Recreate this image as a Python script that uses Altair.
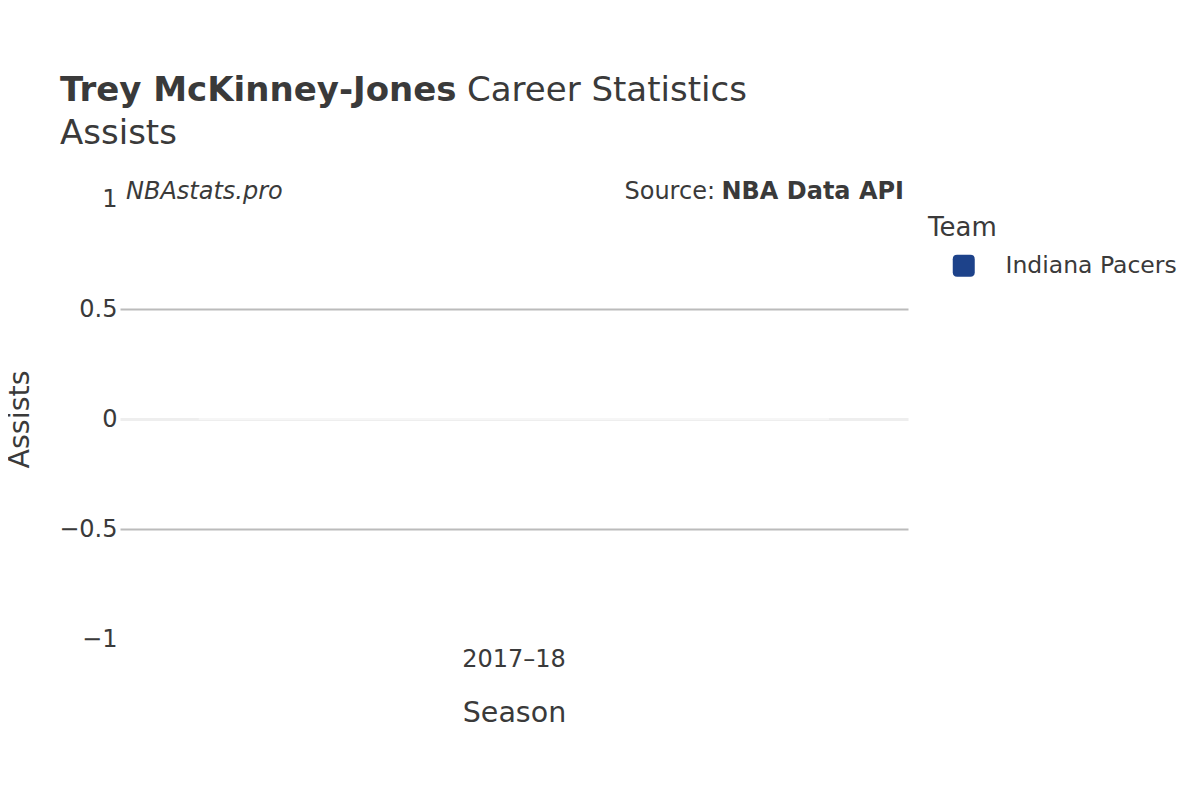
import altair as alt
import pandas as pd

seasons = ["2017–18"]
assists = [0]
teams = ["Indiana Pacers"]
team_colors = ["#1D428A"]

player = "Trey McKinney-Jones"
stat = "Assists"

FONT = "DejaVu Sans"
TXT = "#3a3a3a"

df = pd.DataFrame({"Season": seasons, "Assists": assists, "Team": teams})

rounded_sq = ("M -0.6 -1 L 0.6 -1 Q 1 -1 1 -0.6 L 1 0.6 Q 1 1 0.6 1 "
              "L -0.6 1 Q -1 1 -1 0.6 L -1 -0.6 Q -1 -1 -0.6 -1 Z")

base = alt.Chart(df)

bars = base.mark_bar(stroke="white", strokeWidth=1, strokeOpacity=0.6).encode(
    x=alt.X("Season:N", title="Season",
            scale=alt.Scale(paddingInner=0.2, paddingOuter=0.1),
            axis=alt.Axis(labelAngle=0, domain=False, ticks=False, labelFont=FONT,
                          labelFontSize=24, labelColor=TXT, labelPadding=8,
                          titleFont=FONT, titleFontSize=28.5, titleFontWeight="normal",
                          titleColor=TXT, titleX=394, titleY=73,
                          titleBaseline="middle", titleAlign="center")),
    y=alt.Y("Assists:Q", title="Assists",
            scale=alt.Scale(domain=[-1, 1], nice=False),
            axis=alt.Axis(values=[-1, -0.5, 0, 0.5, 1], format="~g", domain=False, ticks=False,
                          labelFont=FONT, labelFontSize=24, labelColor=TXT,
                          labelPadding=3,
                          gridColor={"condition": {"test": "datum.value === 0", "value": "#eeeeee"},
                                     "value": "#bbbbbb"},
                          gridWidth={"condition": {"test": "datum.value === 0", "value": 3},
                                     "value": 2},
                          gridOpacity={"condition": {"test": "abs(datum.value) === 1", "value": 0},
                                       "value": 1},
                          titleFont=FONT, titleFontSize=28.5, titleFontWeight="normal",
                          titleColor=TXT, titleX=-101, titleY=220, titleAngle=270,
                          titleBaseline="middle", titleAlign="center")),
    color=alt.Color("Team:N", title="Team",
                    scale=alt.Scale(domain=teams, range=team_colors),
                    legend=alt.Legend(orient="none", legendX=808, legendY=16,
                                      padding=0, titleFont=FONT, titleFontSize=26,
                                      titleFontWeight="normal", titleColor=TXT,
                                      titlePadding=13, labelFont=FONT,
                                      labelFontSize=23.5, labelColor=TXT, labelLimit=400,
                                      symbolType=rounded_sq, symbolSize=484,
                                      symbolOffset=24, labelOffset=30,
                                      symbolStrokeWidth=0, symbolOpacity=1)),
)

def txt(text, x, y, size, weight="normal", style="normal", align="left"):
    return base.mark_text(text=text, font=FONT, fontSize=size, fontWeight=weight,
                          fontStyle=style, align=align, baseline="alphabetic",
                          color=TXT).encode(x=alt.value(x), y=alt.value(y))

title_bold = txt(player, -60, -98, 34, weight="bold")
title_rest = txt("Career Statistics", 347, -98, 34)
subtitle = txt(stat, -60, -55, 34)
brand = txt("NBAstats.pro", 6, 0, 24, style="italic")
source_b = txt("NBA Data API", 784, 0, 24, weight="bold", align="right")
source_n = txt("Source:", 595, 0, 24, align="right")

chart = alt.layer(bars, title_bold, title_rest, subtitle, brand, source_b, source_n).properties(
    width=788, height=440,
    autosize=alt.AutoSizeParams(type="none"),
    padding={"left": 112, "top": 191, "right": 284, "bottom": 153},
    background="white",
).configure_view(stroke=None)

chart.save("out.html", embed_options={"renderer": "svg", "actions": False})
